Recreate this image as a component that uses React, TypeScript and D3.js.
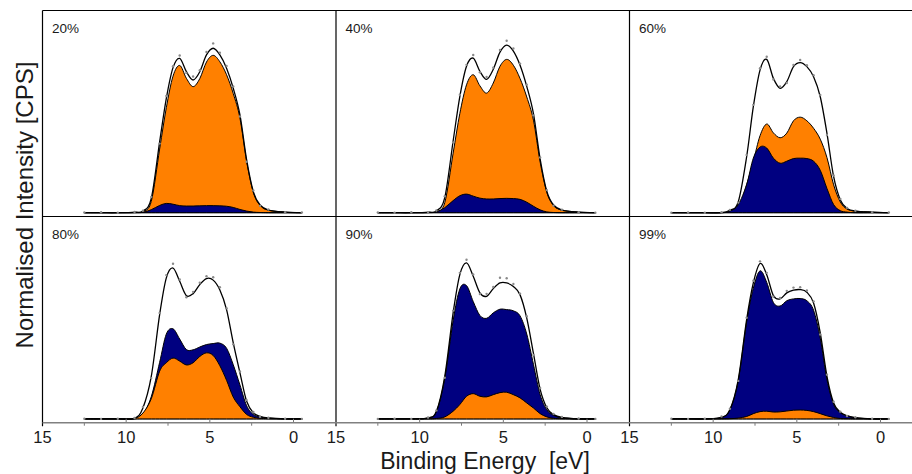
import React, { useRef, useEffect } from 'react';
import * as d3 from 'd3';

// binding energy grid (eV) shared by every panel
const energy = [12.5, 11.5, 10.5, 9.5, 9.0, 8.5, 8.0, 7.6, 7.2, 6.8, 6.4, 6.0, 5.6, 5.2, 4.8, 4.4, 4.0, 3.6, 3.2, 2.8, 2.4, 2.0, 1.5, 0.5, -0.5];

const panelLabels = ['20%', '40%', '60%', '80%', '90%', '99%'];

// orange component
const orange20 = [0, 0, 0, 0.2, 0.6, 5.6, 31.5, 52, 67.6, 72.9, 66.5, 62.4, 66.4, 74.6, 77.9, 74.7, 68.3, 59, 46.8, 25.3, 10.1, 3.7, 1.3, 0.3, 0];
const orange40 = [0, 0, 0, 0.2, 0.5, 5, 29.5, 49.1, 63.3, 68.3, 62.8, 59.2, 64.2, 72.5, 75.9, 73, 66.4, 57.3, 45.8, 25.1, 10.1, 3.7, 1.3, 0.3, 0];
const orange60 = [0, 0, 0, 0, 0.4, 1.4, 13.7, 25.5, 38.1, 43.9, 39.5, 37.1, 39.4, 45.5, 47.3, 45.5, 41.8, 36.4, 27.3, 13.8, 5.3, 1.8, 0.8, 0.3, 0];
const orange80 = [0, 0, 0, 0.3, 2.9, 10, 23.6, 27.8, 30.1, 28.6, 26.7, 27.8, 30.9, 32.7, 31.4, 26.3, 19.1, 10.8, 6, 2.2, 0.8, 0.3, 0.1, 0, 0];
const orange90 = [0, 0, 0, 0, 0.2, 1, 3.8, 7.1, 11.2, 12.5, 11.2, 10.9, 12, 13, 13.2, 12, 10.4, 7.9, 5.4, 2.6, 1, 0.3, 0.1, 0, 0];
const orange99 = [0, 0, 0, 0, 0.1, 0.4, 1.2, 2.6, 3.6, 3.8, 3.4, 3.5, 3.9, 4.3, 4.4, 4.2, 3.6, 2.6, 1.5, 0.7, 0.2, 0.1, 0, 0, 0];

// navy component
const navy20 = [0, 0, 0, 0, 0.2, 1.5, 3.6, 4.6, 4.2, 3.5, 3.3, 3.3, 3.4, 3.5, 3.5, 3.4, 3.2, 2.6, 1.6, 0.8, 0.3, 0.1, 0, 0, 0];
const navy40 = [0, 0, 0, 0, 0.4, 2.5, 6, 8.4, 9.2, 8.2, 7.2, 6.8, 6.8, 7, 7.1, 7, 6.6, 5.2, 3.2, 1.4, 0.4, 0.1, 0, 0, 0];
const navy60 = [0, 0, 0, 0, 0.8, 4, 14, 27, 32.5, 32, 27, 24.5, 25.5, 26.8, 27, 26.8, 25.5, 21, 12, 4, 1, 0.3, 0, 0, 0];
const navy80 = [0, 0, 0, 0, 2.5, 11, 28, 42, 44.6, 39.5, 34.3, 34.2, 35.6, 36.8, 37.3, 37.5, 35, 26.8, 16.8, 6.5, 2.2, 1.0, 0.4, 0, 0];
const navy90 = [0, 0, 0, 0.5, 3.6, 20.1, 48.7, 64.3, 66, 58.1, 51.2, 49.8, 52.5, 54.3, 54.1, 53.5, 51, 42, 27, 12, 4.5, 1.8, 0.6, 0, 0];
const navy99 = [0, 0, 0, 0.8, 4.5, 19.1, 48, 64.7, 73.3, 67.6, 57.6, 55.9, 58.5, 59.4, 59.6, 58.5, 53.8, 40, 19.6, 7.2, 3.1, 1.5, 0.6, 0, 0];

// measured spectra (grey points)
const measured20 = [0.1, 0.2, 0, 0.4, 1.0, 7.8, 34.2, 57.8, 72.5, 77.8, 69.2, 67.4, 70.5, 79.6, 83.8, 79.2, 72.6, 62.5, 47.6, 25.2, 11.0, 3.4, 1.6, 0.2, 0.1];
const measured40 = [0.1, 0, 0.2, 0.3, 1.1, 8.2, 34.8, 58.4, 73.2, 78.1, 69.5, 67.2, 71.8, 80.6, 85.1, 81.3, 73.8, 63.4, 48.2, 27.3, 11.2, 3.5, 1.5, 0.2, 0];
const measured60 = [0, 0.1, 0, 0.2, 1.4, 5.0, 28.6, 53.4, 71.5, 77.2, 66.0, 62.5, 64.2, 73.1, 75.6, 73.0, 68.1, 58.3, 38.5, 18.4, 6.8, 2.4, 1.0, 0.2, 0.1];
const measured80 = [0.1, 0, 0.1, 0.5, 5.9, 20.2, 52.4, 71.2, 76.8, 69.0, 60.2, 62.9, 67.4, 70.6, 70.1, 65.2, 54.8, 36.9, 23.5, 9.3, 3.4, 1.1, 0.6, 0.1, 0];
const measured90 = [0, 0.1, 0, 0.7, 4.2, 20.4, 53.6, 72.3, 78.8, 71.5, 61.8, 61.9, 65.3, 69.9, 69.6, 66.8, 62.0, 50.8, 31.6, 15.3, 6.1, 2.5, 1.0, 0.2, 0];
const measured99 = [0.1, 0, 0.1, 1.2, 5.0, 18.8, 50.1, 68.4, 78.0, 72.3, 60.5, 59.9, 63.4, 65.0, 65.2, 63.6, 58.2, 41.8, 21.9, 8.5, 3.6, 1.4, 0.8, 0.1, 0];

const orangeSeries = [orange20, orange40, orange60, orange80, orange90, orange99];
const navySeries = [navy20, navy40, navy60, navy80, navy90, navy99];
const measuredSeries = [measured20, measured40, measured60, measured80, measured90, measured99];

const xTicks = [15, 10, 5, 0];
const xMinorTicks = [12.5, 7.5, 2.5];

export default function App() {
  const svgRef = useRef<SVGSVGElement>(null);

  useEffect(() => {
    const width = 912;
    const height = 474;
    const colLeft = [42.5, 336, 629.5];
    const rowTop = [10.5, 216.5];
    const rowBottom = [216.5, 422.7];
    const zeroPx = 251; // distance from 15 eV to 0 eV

    const svg = d3.select(svgRef.current);
    svg.selectAll('*').remove();
    svg.attr('width', width).attr('height', height)
      .attr('viewBox', [0, 0, width, height])
      .style('font-family', '"Liberation Sans", Arial, sans-serif');

    svg.append('rect').attr('width', width).attr('height', height).attr('fill', '#fff');

    const curve = d3.curveCatmullRom.alpha(0);

    panelLabels.forEach((label, p) => {
      const col = p % 3;
      const row = Math.floor(p / 3);
      const x = d3.scaleLinear().domain([15, 0]).range([colLeft[col], colLeft[col] + zeroPx]);
      const base = rowBottom[row] - 3.8;
      const y = d3.scaleLinear().domain([0, 100]).range([base, base - 202]);

      const orange = orangeSeries[p];
      const navy = navySeries[p];
      const total = orange.map((v, i) => v + navy[i]);

      const area = d3.area<number>()
        .x((d, i) => x(energy[i]))
        .y0(y(0))
        .y1(d => y(d))
        .curve(curve);
      const line = d3.line<number>()
        .x((d, i) => x(energy[i]))
        .y(d => y(d))
        .curve(curve);

      const g = svg.append('g');

      // bigger component behind, smaller one in front
      const layers = [
        { data: orange, color: '#ff8000' },
        { data: navy, color: '#000080' }
      ].sort((a, b) => d3.sum(b.data) - d3.sum(a.data));

      layers.forEach(l => {
        g.append('path')
          .attr('d', area(l.data))
          .attr('fill', l.color)
          .attr('stroke', '#000')
          .attr('stroke-width', 1)
          .attr('stroke-linejoin', 'round');
      });

      // fit envelope
      g.append('path')
        .attr('d', line(total))
        .attr('fill', 'none')
        .attr('stroke', '#000')
        .attr('stroke-width', 1.3);

      // measured points
      g.append('g')
        .attr('fill', '#8a8a8a')
        .selectAll('circle')
        .data(measuredSeries[p])
        .join('circle')
        .attr('cx', (d, i) => x(energy[i]))
        .attr('cy', d => y(d))
        .attr('r', 1.2);

      g.append('text')
        .attr('x', colLeft[col] + 9.5)
        .attr('y', rowTop[row] + 22.8)
        .attr('font-size', '13.5px')
        .attr('fill', '#1a1a1a')
        .text(label);

      // x axis ticks and labels on the bottom row
      if (row === 1) {
        g.append('g')
          .attr('stroke', '#777')
          .selectAll('line')
          .data(xMinorTicks)
          .join('line')
          .attr('x1', d => x(d)).attr('x2', d => x(d))
          .attr('y1', rowBottom[1]).attr('y2', rowBottom[1] + 3);

        g.append('g')
          .attr('stroke', '#777')
          .selectAll('line')
          .data(xTicks.slice(1))
          .join('line')
          .attr('x1', d => x(d)).attr('x2', d => x(d))
          .attr('y1', rowBottom[1]).attr('y2', rowBottom[1] - 4);

        g.append('g')
          .attr('text-anchor', 'middle')
          .attr('font-size', '16.5px')
          .attr('fill', '#1a1a1a')
          .selectAll('text')
          .data(xTicks)
          .join('text')
          .attr('x', d => x(d))
          .attr('y', 443.3)
          .text(d => d);
      }
    });

    // frame
    const frame = svg.append('g').attr('stroke', '#000').attr('stroke-width', 1.2);
    frame.append('line').attr('x1', colLeft[0]).attr('x2', width).attr('y1', rowTop[0]).attr('y2', rowTop[0]);
    frame.append('line').attr('x1', colLeft[0]).attr('x2', width).attr('y1', rowTop[1]).attr('y2', rowTop[1]);
    colLeft.forEach(cx => {
      frame.append('line').attr('x1', cx).attr('x2', cx).attr('y1', rowTop[0]).attr('y2', rowBottom[1] + 3.5);
    });
    svg.append('line')
      .attr('x1', colLeft[0]).attr('x2', width)
      .attr('y1', rowBottom[1]).attr('y2', rowBottom[1])
      .attr('stroke', '#808080').attr('stroke-width', 1.6);

    svg.append('text')
      .attr('x', 485)
      .attr('y', 469)
      .attr('text-anchor', 'middle')
      .attr('font-size', '23px')
      .attr('fill', '#1a1a1a')
      .attr('xml:space', 'preserve')
      .style('white-space', 'pre')
      .text('Binding Energy  [eV]');

    svg.append('text')
      .attr('transform', 'translate(32.5,205) rotate(-90)')
      .attr('text-anchor', 'middle')
      .attr('font-size', '24px')
      .attr('fill', '#1a1a1a')
      .text('Normalised Intensity [CPS]');
  }, []);

  return (
    <svg ref={svgRef} style={{ position: 'absolute', left: 0, top: 0, display: 'block' }}></svg>
  );
}
